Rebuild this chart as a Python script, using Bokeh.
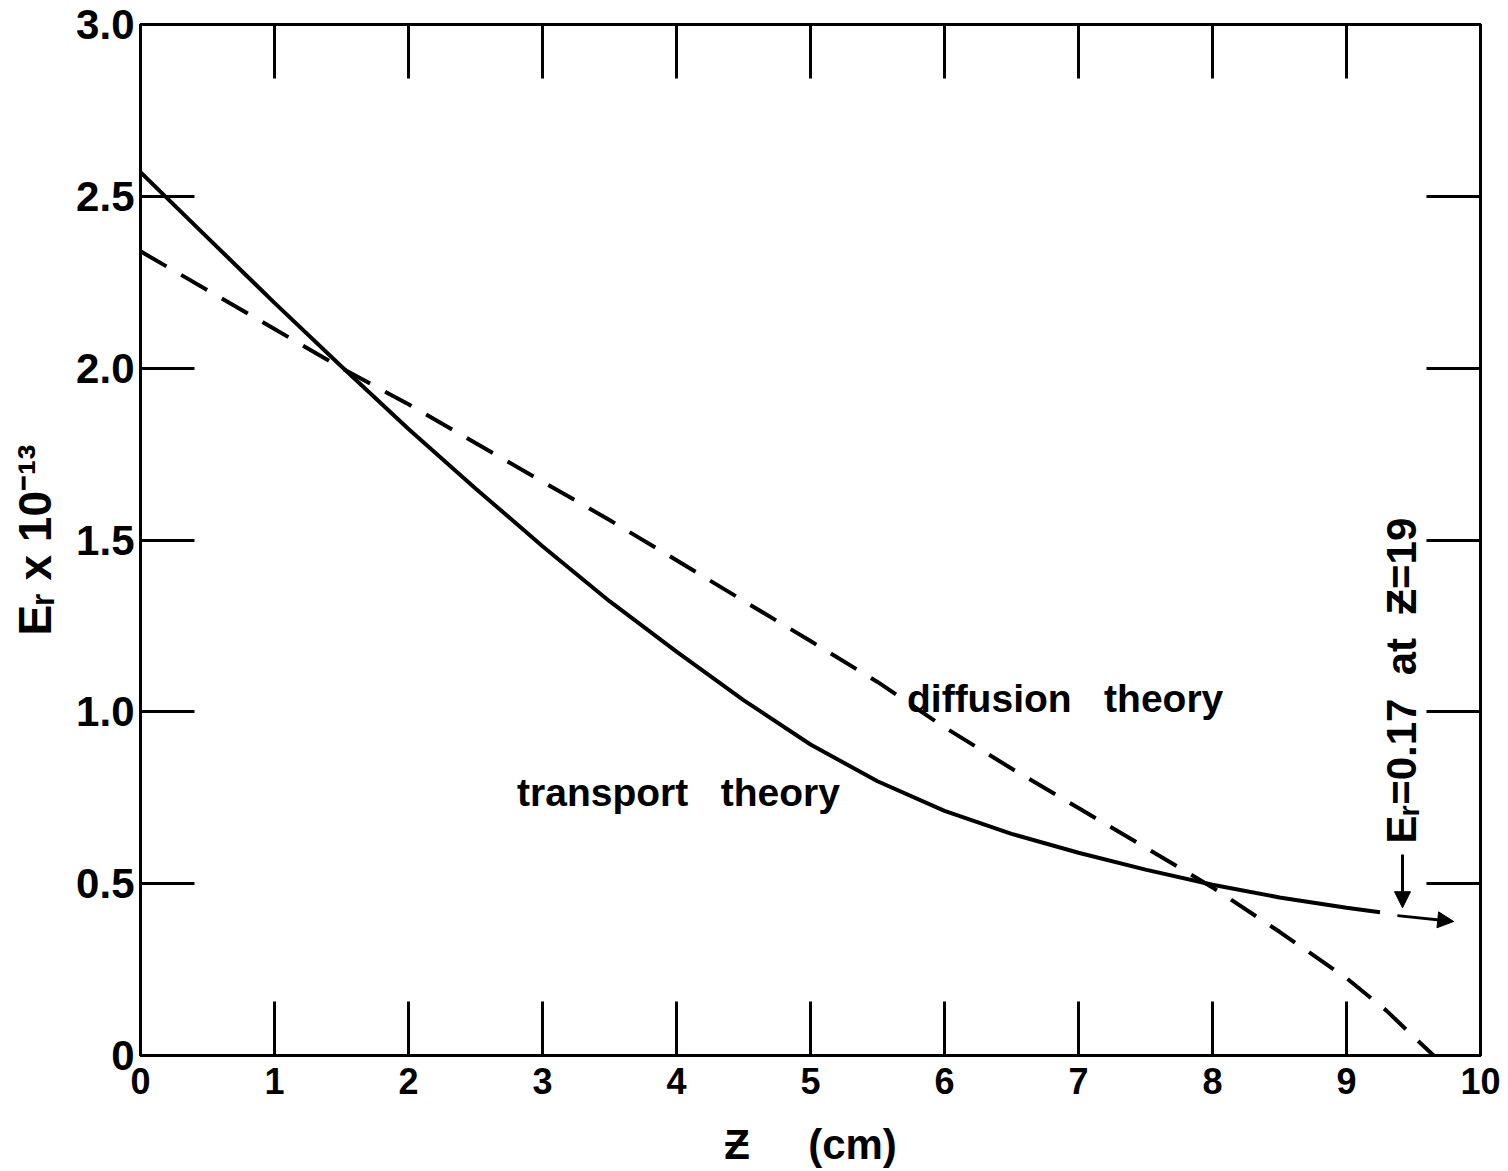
from bokeh.plotting import figure
from bokeh.models import LinearAxis, FixedTicker, Range1d, Arrow, NormalHead, Label, ColumnDataSource
from bokeh.embed import file_html
from bokeh.resources import INLINE

# ---- data ----
transport_z = [0.0, 0.5, 1.0, 1.5, 2.0, 2.5, 3.0, 3.5, 4.0, 4.5, 5.0, 5.5, 6.0, 6.5, 7.0, 7.5, 8.0, 8.5, 9.0, 9.25]
transport_e = [2.57, 2.38, 2.19, 2.005, 1.823, 1.650, 1.482, 1.322, 1.175, 1.034, 0.905, 0.798, 0.712, 0.645, 0.590, 0.541, 0.497, 0.460, 0.430, 0.417]

diffusion_z = [0.0, 0.5, 1.0, 1.5, 2.0, 2.5, 3.0, 3.5, 4.0, 4.5, 5.0, 5.5, 6.0, 6.5, 7.0, 7.5, 8.0, 8.5, 9.0, 9.3, 9.5, 9.65]
diffusion_e = [2.34, 2.227, 2.114, 2.0, 1.895, 1.782, 1.67, 1.558, 1.441, 1.323, 1.206, 1.087, 0.955, 0.835, 0.72, 0.605, 0.489, 0.36, 0.225, 0.13, 0.055, 0.0]

x_ticks = [0, 1, 2, 3, 4, 5, 6, 7, 8, 9, 10]
x_tick_labels = ["0", "1", "2", "3", "4", "5", "6", "7", "8", "9", "10"]
y_ticks = [0, 0.5, 1.0, 1.5, 2.0, 2.5, 3.0]
y_tick_labels = ["0", "0.5", "1.0", "1.5", "2.0", "2.5", "3.0"]

NB = "\u00a0"
x_label = "Ƶ" + NB * 5 + "(cm)"
y_label = "Eᵣ" + NB + "x" + NB + "10⁻¹³"
transport_label = "transport" + NB * 3 + "theory"
diffusion_label = "diffusion" + NB * 3 + "theory"
note_label = "Eᵣ=0.17" + NB * 2 + "at" + NB * 2 + "Ƶ=19"

FONT = "Liberation Sans"

p = figure(width=1500, height=1171, x_range=Range1d(0, 10), y_range=Range1d(0, 3),
           output_backend="svg", toolbar_location=None,
           min_border_left=140, min_border_right=20, min_border_top=24, min_border_bottom=116)
p.grid.visible = False
p.outline_line_color = "black"
p.outline_line_width = 3
p.background_fill_color = "white"
p.border_fill_color = "white"


def style_axis(ax, ticks, labels, font_size, show_labels=True):
    ax.ticker = FixedTicker(ticks=ticks)
    ax.major_tick_in = 54
    ax.major_tick_out = 0
    ax.minor_tick_line_color = None
    ax.major_tick_line_width = 3
    ax.major_tick_line_color = "black"
    ax.axis_line_width = 3
    ax.axis_line_color = "black"
    if show_labels:
        ax.major_label_overrides = {t: l for t, l in zip(ticks, labels)}
        ax.major_label_text_font = FONT
        ax.major_label_text_font_style = "bold"
        ax.major_label_text_color = "black"
        ax.major_label_text_font_size = font_size
    else:
        ax.major_label_text_color = None
        ax.major_label_text_font_size = "1px"
        ax.major_label_standoff = 0


xb = p.xaxis[0]
style_axis(xb, x_ticks, x_tick_labels, "36px")
xb.major_label_standoff = 12
xb.axis_label = x_label
xb.axis_label_text_font = FONT
xb.axis_label_text_font_size = "42px"
xb.axis_label_text_font_style = "bold"
xb.axis_label_text_color = "black"
xb.axis_label_standoff = 24

yl = p.yaxis[0]
style_axis(yl, y_ticks, y_tick_labels, "42px")
yl.major_label_standoff = 6
yl.axis_label = y_label
yl.axis_label_text_font = FONT
yl.axis_label_text_font_size = "46px"
yl.axis_label_text_font_style = "bold"
yl.axis_label_text_color = "black"
yl.axis_label_standoff = 12

top = LinearAxis()
style_axis(top, x_ticks, x_tick_labels, "1px", show_labels=False)
p.add_layout(top, "above")
right = LinearAxis()
style_axis(right, y_ticks, y_tick_labels, "1px", show_labels=False)
p.add_layout(right, "right")

src_t = ColumnDataSource(dict(z=transport_z, e=transport_e))
src_d = ColumnDataSource(dict(z=diffusion_z, e=diffusion_e))
p.line("z", "e", source=src_t, line_color="black", line_width=4)
p.line("z", "e", source=src_d, line_color="black", line_width=4, line_dash="30 17")

p.add_layout(Label(x=2.81, y=0.765, text=transport_label, text_font=FONT, text_font_style="bold",
                   text_font_size="39px", text_color="black", text_baseline="alphabetic"))
p.add_layout(Label(x=5.72, y=1.04, text=diffusion_label, text_font=FONT, text_font_style="bold",
                   text_font_size="39px", text_color="black", text_baseline="alphabetic"))
p.add_layout(Label(x=9.41, y=0.617, text=note_label, angle=1.5708, text_font=FONT,
                   text_font_style="bold", text_font_size="42px", text_color="black",
                   text_baseline="alphabetic", text_align="left"))

p.add_layout(Arrow(end=NormalHead(size=16, fill_color="black", line_color="black"),
                   x_start=9.418, y_start=0.585, x_end=9.418, y_end=0.43,
                   line_color="black", line_width=3))
p.add_layout(Arrow(end=NormalHead(size=16, fill_color="black", line_color="black"),
                   x_start=9.38, y_start=0.407, x_end=9.8, y_end=0.39,
                   line_color="black", line_width=3))

open("out.html", "w").write(file_html(p, INLINE))
